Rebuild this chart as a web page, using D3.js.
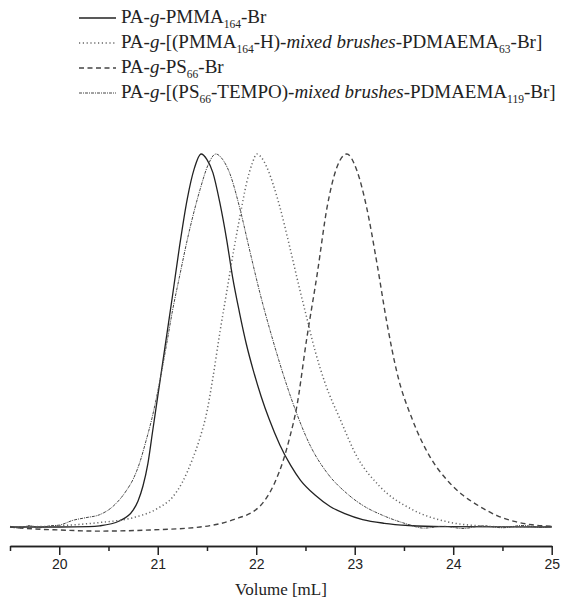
<!DOCTYPE html>
<html><head><meta charset="utf-8">
<script src="https://cdn.jsdelivr.net/npm/d3@7/dist/d3.min.js"></script>
<style>
html,body{margin:0;padding:0;background:#fff;}
svg{display:block;}
</style>
</head><body>
<svg id="chart" width="571" height="601"></svg>
<script>
// ---- data (volume mL, normalized intensity) ----
const pmmaBr = [[19.5,0],[20.0,0],[20.3,0.001],[20.41,0.003],[20.61,0.016],[20.75,0.045],[20.80,0.07],[20.85,0.11],[20.90,0.17],[20.95,0.26],[21.0,0.35],[21.05,0.44],[21.10,0.53],[21.15,0.62],[21.22,0.75],[21.30,0.88],[21.37,0.96],[21.44,1.0],[21.50,0.985],[21.56,0.95],[21.63,0.87],[21.70,0.77],[21.76,0.67],[21.83,0.575],[21.90,0.49],[21.97,0.42],[22.05,0.35],[22.13,0.29],[22.24,0.22],[22.35,0.165],[22.45,0.125],[22.6,0.085],[22.75,0.055],[22.9,0.036],[23.08,0.02],[23.3,0.01],[23.55,0.004],[23.9,0.001],[25.0,0]];
const pmmaMixed = [[19.5,0],[19.9,0.002],[20.2,0.007],[20.41,0.012],[20.75,0.025],[21.0,0.05],[21.15,0.08],[21.25,0.12],[21.35,0.18],[21.43,0.24],[21.5,0.31],[21.56,0.40],[21.63,0.52],[21.70,0.63],[21.77,0.74],[21.84,0.84],[21.90,0.92],[21.96,0.975],[22.006,1.0],[22.055,0.99],[22.107,0.965],[22.17,0.92],[22.24,0.858],[22.341,0.75],[22.43,0.65],[22.514,0.56],[22.6,0.47],[22.7,0.385],[22.85,0.29],[23.02,0.19],[23.25,0.11],[23.59,0.046],[23.94,0.014],[24.27,0.003],[24.6,0.0],[25.0,0]];
const psBr = [[19.5,0],[19.73,-0.005],[20.0,-0.008],[20.41,-0.011],[20.92,-0.008],[21.43,0.0],[21.76,0.019],[22.03,0.054],[22.19,0.12],[22.27,0.175],[22.34,0.24],[22.41,0.32],[22.51,0.50],[22.62,0.68],[22.72,0.858],[22.82,0.965],[22.92,1.0],[23.02,0.957],[23.12,0.858],[23.225,0.708],[23.327,0.547],[23.43,0.413],[23.59,0.285],[23.76,0.19],[23.94,0.125],[24.1,0.085],[24.27,0.055],[24.45,0.03],[24.62,0.015],[24.8,0.006],[25.0,0.002]];
const psMixed = [[19.5,0.002],[19.6,-0.003],[19.7,0.004],[19.8,-0.002],[19.9,0.003],[20.0,0.005],[20.14,0.018],[20.27,0.025],[20.41,0.033],[20.54,0.054],[20.685,0.099],[20.75,0.128],[20.82,0.175],[20.88,0.23],[20.94,0.29],[21.02,0.39],[21.09,0.49],[21.15,0.58],[21.22,0.67],[21.30,0.77],[21.43,0.905],[21.51,0.97],[21.59,1.0],[21.66,0.985],[21.73,0.949],[21.83,0.858],[21.935,0.74],[22.035,0.63],[22.17,0.50],[22.31,0.38],[22.41,0.305],[22.545,0.22],[22.72,0.145],[22.92,0.09],[23.1,0.055],[23.26,0.034],[23.53,0.008],[23.7,-0.003],[23.9,0.002],[24.1,-0.004],[24.3,0.003],[24.5,-0.002],[24.7,0.004],[24.9,-0.001],[25.0,0.002]];

const xTicks = [20,21,22,23,24,25];
const xMinorTicks = [19.5,20.5,21.5,22.5,23.5,24.5];
const xLabel = "Volume [mL]";

const legendItems = [
  {parts:[["PA-",""],["g","i"],["-PMMA",""],["164","sub"],["-Br",""]], dash:null, color:"#222", width:1.3},
  {parts:[["PA-",""],["g","i"],["-[(PMMA",""],["164","sub"],["-H)-",""],["mixed brushes","i"],["-PDMAEMA",""],["63","sub"],["-Br]",""]], dash:"1.2,2.6", color:"#666", width:1.5},
  {parts:[["PA-",""],["g","i"],["-PS",""],["66","sub"],["-Br",""]], dash:"5,3.5", color:"#444", width:1.4},
  {parts:[["PA-",""],["g","i"],["-[(PS",""],["66","sub"],["-TEMPO)-",""],["mixed brushes","i"],["-PDMAEMA",""],["119","sub"],["-Br]",""]], dash:"3,1,1,1", color:"#444", width:1.0}
];
const seriesList = [pmmaBr, pmmaMixed, psBr, psMixed];

// ---- drawing ----
const svg = d3.select("#chart");
const x = d3.scaleLinear().domain([19.5,25]).range([10,551.7]);
const y = d3.scaleLinear().domain([0,1]).range([527,154]);

const line = d3.line().x(d=>x(d[0])).y(d=>y(d[1])).curve(d3.curveMonotoneX);

seriesList.forEach((s,i)=>{
  const st = legendItems[i];
  svg.append("path").datum(s)
    .attr("d", line)
    .attr("fill","none")
    .attr("stroke", st.color)
    .attr("stroke-width", st.width)
    .attr("stroke-dasharray", st.dash);
});

// x axis
const axisY = 546;
const gMinor = svg.append("g").attr("transform",`translate(0,${axisY})`)
  .call(d3.axisBottom(x).tickValues(xMinorTicks).tickSize(5).tickSizeOuter(0).tickFormat(""));
const gMajor = svg.append("g").attr("transform",`translate(0,${axisY})`)
  .call(d3.axisBottom(x).tickValues(xTicks).tickSize(9).tickSizeOuter(0).tickFormat(d3.format("d")).tickPadding(4));
[gMinor,gMajor].forEach(g=>{
  g.selectAll("path.domain").attr("stroke","#222").attr("stroke-width",1.5);
  g.selectAll(".tick line").attr("stroke","#222").attr("stroke-width",1.5);
});
gMajor.selectAll(".tick text")
  .attr("font-family","'Liberation Sans', Arial, sans-serif")
  .attr("font-size",14).attr("fill","#222");

svg.append("text")
  .attr("x", 281).attr("y", 595)
  .attr("text-anchor","middle")
  .attr("font-family","'Liberation Serif','Times New Roman',serif")
  .attr("font-size",17).attr("fill","#222")
  .text(xLabel);

// legend
const lgX0 = 79, lgX1 = 116, lgTx = 121, lgY0 = 23, lgDy = 25;
legendItems.forEach((it,i)=>{
  const yy = lgY0 + i*lgDy;
  svg.append("line").attr("x1",lgX0).attr("x2",lgX1).attr("y1",yy-5).attr("y2",yy-5)
    .attr("stroke",it.color).attr("stroke-width",it.width).attr("stroke-dasharray",it.dash);
  const t = svg.append("text").attr("x",lgTx).attr("y",yy)
    .attr("font-family","'Liberation Serif','Times New Roman',serif")
    .attr("font-size",19).attr("fill","#222");
  let prevSub = false;
  it.parts.forEach(p=>{
    const ts = t.append("tspan").text(p[0]);
    if(p[1]==="i") ts.attr("font-style","italic");
    if(p[1]==="sub"){ ts.attr("font-size",11.5).attr("dy",5); prevSub = true; }
    else if(prevSub){ ts.attr("dy",-5); prevSub = false; }
  });
});
</script>
</body></html>
